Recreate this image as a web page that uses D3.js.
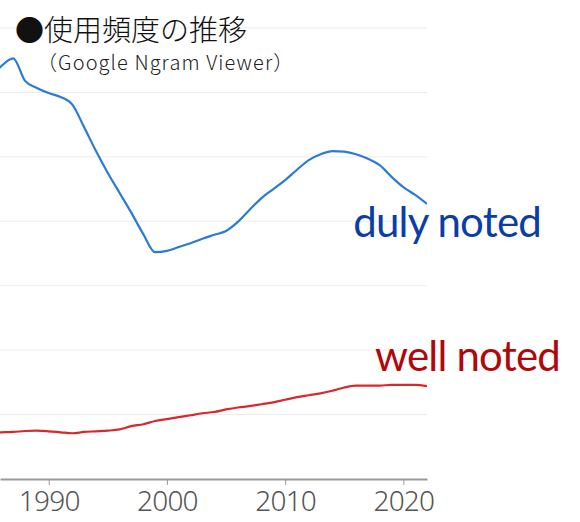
<!DOCTYPE html>
<html><head><meta charset="utf-8">
<script src="https://cdn.jsdelivr.net/npm/d3@7"></script>
<style>
html,body{margin:0;padding:0;background:#fff;}
svg{display:block;}
</style></head>
<body>
<svg id="chart" width="580" height="522"></svg>
<script>
const years = d3.range(1985, 2023);
const dulyNoted = [6.19,6.41,6.53,6.18,6.07,5.99,5.93,5.81,5.46,5.09,4.75,4.44,4.13,3.80,3.52,3.54,3.60,3.66,3.73,3.79,3.85,3.99,4.18,4.36,4.50,4.64,4.80,4.95,5.04,5.09,5.08,5.04,4.97,4.87,4.69,4.53,4.41,4.27];
const wellNoted = [0.72,0.725,0.73,0.745,0.75,0.74,0.725,0.71,0.73,0.74,0.75,0.77,0.82,0.85,0.90,0.93,0.96,0.99,1.02,1.04,1.08,1.11,1.13,1.16,1.19,1.23,1.27,1.30,1.33,1.37,1.42,1.45,1.45,1.45,1.46,1.46,1.46,1.44];
const xTicks = [1990, 2000, 2010, 2020];
const gridValues = [1,2,3,4,5,6,7];
const titleText = "●使用頻度の推移";
const subtitleText = "（Google Ngram Viewer）";
const seriesLabels = ["duly noted", "well noted"];

(function(){
const svg = d3.select("#chart");
const mLeft = 0, mRight = 427, mTop = 28, mBottom = 479;
const x = d3.scaleLinear().domain([1985.88, 2022]).range([mLeft, mRight]);
const y = d3.scaleLinear().domain([0, 7]).range([mBottom, mTop]);

svg.append("defs").append("clipPath").attr("id","clip")
  .append("rect").attr("x",mLeft).attr("y",0).attr("width",mRight-mLeft).attr("height",mBottom);

svg.append("g").selectAll("line").data(gridValues).join("line")
  .attr("x1", mLeft).attr("x2", mRight)
  .attr("y1", d => y(d)).attr("y2", d => y(d))
  .attr("stroke", "#ececec").attr("stroke-width", 1);

svg.append("text").attr("x", 15).attr("y", 41)
  .attr("font-family", "'Noto Sans CJK JP', sans-serif")
  .attr("font-size", 29).attr("font-weight", 300).attr("fill", "#111").text(titleText);
svg.append("text").attr("x", 37).attr("y", 70)
  .attr("font-family", "'Noto Sans CJK JP', sans-serif")
  .attr("font-size", 20).attr("font-weight", 300).attr("fill", "#222").attr("letter-spacing", 1.1).text(subtitleText);

const line = d3.line().x((d,i) => x(years[i])).y(d => y(d)).curve(d3.curveMonotoneX);

const g = svg.append("g").attr("clip-path", "url(#clip)");
g.append("path").datum(dulyNoted).attr("d", line)
  .attr("fill", "none").attr("stroke", "#2a7bd6").attr("stroke-width", 2.2);
g.append("path").datum(wellNoted).attr("d", line)
  .attr("fill", "none").attr("stroke", "#d8282c").attr("stroke-width", 2.2);

const axis = d3.axisBottom(x).tickValues(xTicks).tickFormat(d3.format("d")).tickSize(6).tickSizeOuter(0);
const ax = svg.append("g").attr("transform", `translate(0,${mBottom})`).call(axis);
ax.select(".domain").attr("stroke", "#9a9a9a").attr("stroke-width", 2);
ax.selectAll(".tick line").attr("stroke", "#9a9a9a").attr("stroke-width", 1);
ax.selectAll(".tick text").attr("font-family", "'Noto Sans', sans-serif")
  .attr("font-size", 28).attr("font-weight", 300).attr("fill", "#555").attr("letter-spacing", -0.8).attr("dy", "0.93em").attr("y", 6);

svg.append("text").attr("x", 541).attr("y", 237).attr("text-anchor", "end")
  .attr("font-family", "Lato, sans-serif").attr("font-size", 42).attr("font-weight", 400).attr("letter-spacing", -0.8)
  .attr("fill", "#0a3da8").text(seriesLabels[0]);
svg.append("text").attr("x", 560).attr("y", 371).attr("text-anchor", "end")
  .attr("font-family", "Lato, sans-serif").attr("font-size", 42).attr("font-weight", 400).attr("letter-spacing", -0.8)
  .attr("fill", "#b00808").text(seriesLabels[1]);
})();
</script>
</body></html>
